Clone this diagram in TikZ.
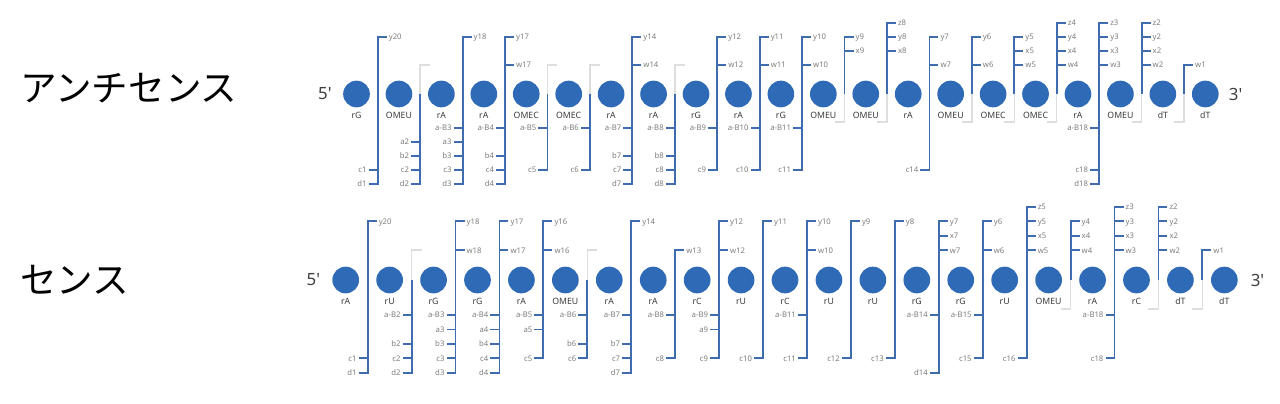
\documentclass[tikz,border=0pt]{standalone}
\usepackage{fontspec}
\setmainfont{Noto Sans}
\newfontfamily\jpfont{Noto Sans CJK JP}
\usetikzlibrary{positioning}
\definecolor{nucblue}{RGB}{46,106,181}
\definecolor{ionblue}{RGB}{62,108,174}
\definecolor{stubgray}{RGB}{222,222,222}
\definecolor{iongray}{RGB}{125,125,125}
\definecolor{nucgray}{RGB}{60,60,60}
\tikzset{
  nuc/.style={circle, fill=nucblue, minimum size=0.667cm, inner sep=0pt, outer sep=0pt},
  nuclbl/.style={font=\fontsize{6.2}{7}\selectfont, text=nucgray, inner sep=0pt, text height=4.5pt, text depth=0pt, yshift=-3.5pt},
  endlbl/.style={font=\fontsize{12}{14}\selectfont, text=black!75, inner sep=0pt},
  strand/.style={font=\jpfont\fontsize{26}{30}\selectfont, inner sep=0pt, anchor=west},
  ion/.style={draw=ionblue, line width=1.3pt},
  stub/.style={draw=stubgray, line width=1pt},
  iontxt/.style={font=\fontsize{5.5}{6}\selectfont, text=iongray, inner sep=1.3pt, text height=4pt, text depth=0pt},
}
% #1 row, #2 gap, #3 level/label list
\newcommand{\ionup}[3]{%
  \coordinate (#1g#2) at (#2+0.5,0);
  \foreach \lv/\txt in {#3} {
    \node[iontxt, anchor=west] (#1u#2-\lv) at ([xshift=0.225cm]#2+0.5,-1.07-\lv) {\txt};
    \draw[ion] (#1g#2) |- (#1u#2-\lv.west);
  }
}
\newcommand{\ionlo}[3]{%
  \coordinate (#1g#2) at (#2+0.5,0);
  \foreach \lv/\txt in {#3} {
    \node[iontxt, anchor=east] (#1l#2-\lv) at ([xshift=-0.225cm]#2+0.5,1.43+\lv) {\txt};
    \draw[ion] (#1g#2) |- (#1l#2-\lv.east);
  }
}
\newcommand{\stubup}[2]{%
  \coordinate (#1g#2) at (#2+0.5,0);
  \coordinate (#1su#2) at ([xshift=0.25cm]#2+0.5,-2.07);
  \draw[stub] (#1g#2) |- (#1su#2);
}
\newcommand{\stublo}[2]{%
  \coordinate (#1g#2) at (#2+0.5,0);
  \coordinate (#1sl#2) at ([xshift=-0.25cm]#2+0.5,2.0);
  \draw[stub] (#1g#2) |- (#1sl#2);
}

\begin{document}
\begin{tikzpicture}[x=0.025cm, y=-0.025cm]
  \useasboundingbox (0,0) rectangle (1280,403);

  % strand names
  \node[strand] (anti) at (20,88) {アンチセンス};
  \node[strand] (sense) at (20,280) {センス};

  % antisense strand
  \begin{scope}[shift={(356.5,94)}, x=1.0607cm, y=-0.35cm, node distance=1.0607cm]
    \node[nuc, label={[nuclbl]below:rG}] (A0) at (0,0) {};
    \foreach \nm [count=\i, evaluate=\i as \j using int(\i-1)] in
      {OMEU,rA,rA,OMEC,OMEC,rA,rA,rG,rA,rG,OMEU,OMEU,rA,OMEU,OMEC,OMEC,rA,OMEU,dT,dT}
      \node[nuc, right of=A\j, label={[nuclbl]below:\nm}] (A\i) {};
    \node[endlbl, left=0.28cm of A0] (A5end) {5\textquotesingle};
    \node[endlbl, right=0.25cm of A20] (A3end) {3\textquotesingle};

    % fragments
    \ionup{A}{0}{3/y20}                 \ionlo{A}{0}{4/c1,5/d1}
    \stubup{A}{1}                       \ionlo{A}{1}{2/a2,3/b2,4/c2,5/d2}
    \ionup{A}{2}{3/y18}                 \ionlo{A}{2}{1/a-B3,2/a3,3/b3,4/c3,5/d3}
    \ionup{A}{3}{3/y17,1/w17}           \ionlo{A}{3}{1/a-B4,3/b4,4/c4,5/d4}
    \stubup{A}{4}                       \ionlo{A}{4}{1/a-B5,4/c5}
    \stubup{A}{5}                       \ionlo{A}{5}{1/a-B6,4/c6}
    \ionup{A}{6}{3/y14,1/w14}           \ionlo{A}{6}{1/a-B7,3/b7,4/c7,5/d7}
    \stubup{A}{7}                       \ionlo{A}{7}{1/a-B8,3/b8,4/c8,5/d8}
    \ionup{A}{8}{3/y12,1/w12}           \ionlo{A}{8}{1/a-B9,4/c9}
    \ionup{A}{9}{3/y11,1/w11}           \ionlo{A}{9}{1/a-B10,4/c10}
    \ionup{A}{10}{3/y10,1/w10}          \ionlo{A}{10}{1/a-B11,4/c11}
    \ionup{A}{11}{3/y9,2/x9}            \stublo{A}{11}
    \ionup{A}{12}{4/z8,3/y8,2/x8}       \stublo{A}{12}
    \ionup{A}{13}{3/y7,1/w7}            \ionlo{A}{13}{4/c14}
    \ionup{A}{14}{3/y6,1/w6}            \stublo{A}{14}
    \ionup{A}{15}{3/y5,2/x5,1/w5}       \stublo{A}{15}
    \ionup{A}{16}{4/z4,3/y4,2/x4,1/w4}  \stublo{A}{16}
    \ionup{A}{17}{4/z3,3/y3,2/x3,1/w3}  \ionlo{A}{17}{1/a-B18,4/c18,5/d18}
    \ionup{A}{18}{4/z2,3/y2,2/x2,1/w2}  \stublo{A}{18}
    \ionup{A}{19}{1/w1}                 \stublo{A}{19}
  \end{scope}

  % sense strand
  \begin{scope}[shift={(345.7,280)}, x=1.098cm, y=-0.36cm, node distance=1.098cm]
    \node[nuc, label={[nuclbl]below:rA}] (B0) at (0,0) {};
    \foreach \nm [count=\i, evaluate=\i as \j using int(\i-1)] in
      {rU,rG,rG,rA,OMEU,rA,rA,rC,rU,rC,rU,rU,rG,rG,rU,OMEU,rA,rC,dT,dT}
      \node[nuc, right of=B\j, label={[nuclbl]below:\nm}] (B\i) {};
    \node[endlbl, left=0.3cm of B0] (B5end) {5\textquotesingle};
    \node[endlbl, right=0.32cm of B20] (B3end) {3\textquotesingle};

    % fragments
    \ionup{B}{0}{3/y20}                 \ionlo{B}{0}{4/c1,5/d1}
    \stubup{B}{1}                       \ionlo{B}{1}{1/a-B2,3/b2,4/c2,5/d2}
    \ionup{B}{2}{3/y18,1/w18}           \ionlo{B}{2}{1/a-B3,2/a3,3/b3,4/c3,5/d3}
    \ionup{B}{3}{3/y17,1/w17}           \ionlo{B}{3}{1/a-B4,2/a4,3/b4,4/c4,5/d4}
    \ionup{B}{4}{3/y16,1/w16}           \ionlo{B}{4}{1/a-B5,2/a5,4/c5}
    \stubup{B}{5}                       \ionlo{B}{5}{1/a-B6,3/b6,4/c6}
    \ionup{B}{6}{3/y14}                 \ionlo{B}{6}{1/a-B7,3/b7,4/c7,5/d7}
    \ionup{B}{7}{1/w13}                 \ionlo{B}{7}{1/a-B8,4/c8}
    \ionup{B}{8}{3/y12,1/w12}           \ionlo{B}{8}{1/a-B9,2/a9,4/c9}
    \ionup{B}{9}{3/y11}                 \ionlo{B}{9}{4/c10}
    \ionup{B}{10}{3/y10,1/w10}          \ionlo{B}{10}{1/a-B11,4/c11}
    \ionup{B}{11}{3/y9}                 \ionlo{B}{11}{4/c12}
    \ionup{B}{12}{3/y8}                 \ionlo{B}{12}{4/c13}
    \ionup{B}{13}{3/y7,2/x7,1/w7}       \ionlo{B}{13}{1/a-B14,5/d14}
    \ionup{B}{14}{3/y6,1/w6}            \ionlo{B}{14}{1/a-B15,4/c15}
    \ionup{B}{15}{4/z5,3/y5,2/x5,1/w5}  \ionlo{B}{15}{4/c16}
    \ionup{B}{16}{3/y4,2/x4,1/w4}       \stublo{B}{16}
    \ionup{B}{17}{4/z3,3/y3,2/x3,1/w3}  \ionlo{B}{17}{1/a-B18,4/c18}
    \ionup{B}{18}{4/z2,3/y2,2/x2,1/w2}  \stublo{B}{18}
    \ionup{B}{19}{1/w1}                 \stublo{B}{19}
  \end{scope}
\end{tikzpicture}
\end{document}
